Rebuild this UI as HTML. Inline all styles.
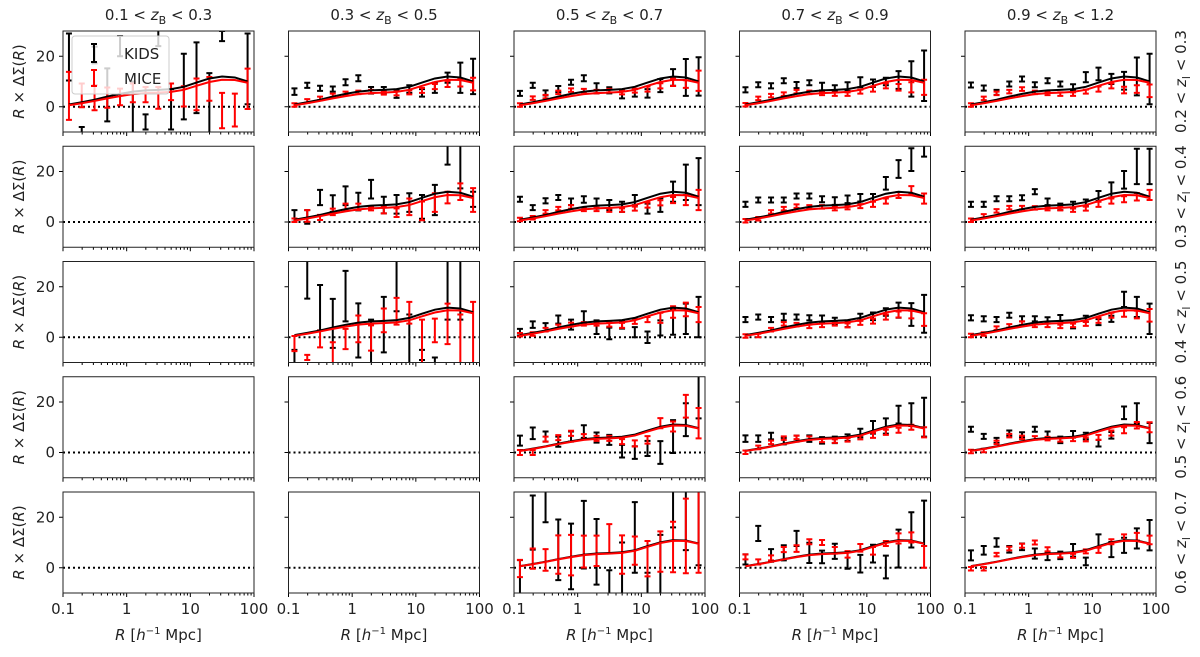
<!DOCTYPE html>
<html><head><meta charset="utf-8"><style>
html,body{margin:0;padding:0;background:#fff;}
svg{display:block;font-family:"DejaVu Sans","Liberation Sans",sans-serif;}
</style></head><body>
<svg id="chart" width="1200" height="657" viewBox="0 0 1200 657" xmlns="http://www.w3.org/2000/svg"></svg>
<script>
const radii = [0.124,0.197,0.313,0.496,0.787,1.25,1.98,3.14,4.98,7.9,12.5,19.9,31.5,50,79.3];
const colTitles = ["0.1","0.3","0.5","0.7","0.9","1.2"];
const rowTitles = ["0.2","0.3","0.4","0.5","0.6","0.7"];
const yTicks = [0,20];
const xTicks = [0.1,1,10,100];
const xTickLabels = ["0.1","1","10","100"];
const panelRows = [0,0,0,0,0,1,1,1,1,2,2,2,2,3,3,3,4,4,4];
const panelCols = [0,1,2,3,4,1,2,3,4,1,2,3,4,2,3,4,2,3,4];
const kidsVal = [
[19.7,-12,20.5,4.7,24,-3,-6,28,-1,8,11.5,1.3,28,38,15],
[6,8.5,7.3,7,9.7,11.3,6.5,6.5,5,7,5.5,7.5,11.5,11.5,12],
[5.3,8.5,5.5,7,9.7,11.3,7.3,6.5,4.8,5.5,5.3,8.4,11.6,11.6,12],
[6.7,8.7,8.3,10.3,8.6,9.5,8,7.3,8,9.7,9.3,10,10.6,11,12.3],
[8.6,7.4,5.7,9,11,8.7,10.3,9,7.7,11.7,13,11,10.3,12,11],
[2.4,2,9.7,7.3,10.4,8.1,13,6.7,7,7.7,6,8.7,27.7,22,9],
[9,5.7,8.4,9.7,8,8.9,7.3,6.7,6,8.7,5.3,6.7,12,15.7,16],
[7,8.7,8.7,8.7,10.3,10.3,9,8.3,9,9.6,9.6,15.3,21,24.7,28.4],
[7,7,9.2,9.2,9.6,12,8,6,6.7,7.6,10.3,12.7,16.7,22,22],
[-15,23,11.7,5.5,16.3,2.7,-3,5,20.3,-3,-7,-12,25,22,40],
[2,5,4,7,5,8,4,1.5,5,2,0,3.7,6,7.3,8],
[7,8,7,8,8,7.7,7.3,6.4,5.3,8,8.3,10,10.7,9,9.3],
[7.7,7.3,7,8.7,7.3,7.3,6.7,7.6,4.7,7.3,6,7.3,15,12,7.3],
[4.7,7.6,6.3,4.3,6.3,8.3,5.9,5,0.5,0,1.6,0,6.3,13,22],
[5.5,5.5,6.5,4.5,5.5,5.5,4.8,5,5.9,7.7,10,10.5,15,15,14],
[9.2,6.4,4.8,7.7,7,9.2,7,5,7.2,6.5,3.7,6.8,15.7,15.5,7.7],
[-5,17.9,25,7.1,4.5,13.1,6.3,-8,-6,12,-10,-4,25,22,20],
[3.3,13.6,4.9,5.9,11.6,5.9,4.3,6.5,2.9,1.6,5.6,0.3,7.6,15,17.6],
[4.9,6.9,10,7.3,8.3,5.6,4.5,4.9,6.9,2.5,10.7,7.2,8.9,11.6,12.9]
];
const kidsErr = [
[9.3,4,3.3,10.5,4,13,3,4,8,13,14,12,2,3,14],
[1.3,1,1,1,1.2,1.2,1.3,1.3,1.5,1.5,1.5,2,2,6,7],
[1,1,1,1.2,1,1.2,2,1.2,1.5,1.5,1.7,2.6,3.3,7.3,7.6],
[1,1,1,1,1.2,1,1.5,1.2,1.7,2,1.5,1.5,3.5,7,10],
[1,1,1,1,1,1,1,1,1.2,2,2.5,2,3.5,7.5,10],
[2.3,2.7,3,3.3,3.7,3.5,3.7,3.3,3.7,3.7,4.7,6,5,8.7,3],
[1,1,1,1,1.3,1.3,2,2,2,2,2,2.7,4,7,9.3],
[1,1,1,1,1,1,1.2,1.5,1.5,1.5,1.5,2.5,3.5,4.5,2.5],
[1,1,1,1,1,1,1.3,1.3,1.3,1.3,2,3,3.5,7,7],
[10,7.7,9,9.7,10,10.7,10,11,10,12,2,4,18,15,2],
[1.3,1.3,1.6,1.6,2,2.3,2.7,2.3,1.6,2,2.3,3,5,6,8],
[1,1,1,1.3,1,1,1.3,1.3,1.3,1.3,1.5,1.5,3,4.5,7.5],
[1,1,1,1,1,1,1.2,1.2,1.2,1.2,1.2,1.2,3,4,6],
[2,2.3,2,2,2,2.5,2,2,2.5,2.5,3,4.5,6.5,6.5,8.5],
[1.3,1.3,1.3,1.3,1.2,1.3,1.3,1.3,1.3,1.7,2.5,3,3.5,4.5,7.7],
[1,1,1,1,1,1,1.3,1.3,1.3,1.3,1.3,1.3,2.5,4,4],
[8,10.7,7,12,13,13.4,13,7,16,14,8,17,9,15,19],
[2,3,2.5,3,3,4,2.5,3,3.3,3.5,3.5,4.5,7.5,7,9],
[2,1.7,1.7,1.3,1.3,2,1.5,1.5,2.5,1.5,2.5,3,3,4,6]
];
const miceVal = [
[4.3,4.5,3.6,3.6,3.9,5.5,4.8,3.5,5.9,4.1,4.9,7.1,-1.5,-1.3,7.1],
[0.7,2.3,3.3,4.5,5.3,5.7,6,5.5,5.3,5.7,6.5,8,9,9.5,9],
[0.7,3.4,4,5.7,6.6,6.4,6,6.4,5.7,6.4,7,8.3,9.7,9,10.3],
[0.8,3.3,4.4,5,6,5.7,5.3,5,5,6,7,8.3,7.7,7.7,7.7],
[0.7,3.3,5.3,6,7,5.7,5.3,5,5,6,7,8.3,6.6,7,6.3],
[0.7,2.4,1.8,4,6,6,5.3,4.7,3.7,6,4.4,7.7,9.7,12,8.7],
[1,1.7,4,5.3,6,5,5,4.7,4.7,5.3,6.7,7.6,8.7,8.7,8.7],
[0.5,1.3,4,5.3,6.3,6,6,5.3,5.7,6.3,7,8.3,10.7,12.7,9.3],
[0.7,2.4,4.4,5.7,5.7,5.6,5.3,5.3,4.7,5.3,7,8.3,9,10,10.7],
[-2.5,-8,-0.7,-8,-0.7,3.3,-0.3,6.7,10.3,9.7,-2,2.7,5.3,-2,0],
[1,1.3,3,4.3,5,5.3,5.3,5,4.7,6.3,7,7.7,10,11,9],
[0.5,0.7,3,5.3,5,4.3,4.7,5.3,4.7,5.7,6.4,8,9,9,7],
[0.7,1.3,3.6,4.5,5.6,4.7,4.7,4.3,4.7,5.3,6.7,8.7,9.3,9,8.7],
[0,0,5.3,5.9,7.6,6.3,5.6,5.6,4.3,3.6,5,11.6,10.3,18.3,11.6],
[0.1,2,4,5.7,6,5.7,4.8,4.5,5,6,6.8,8,8.8,10,8],
[0.4,0.8,4,6.7,6,5.8,5.5,5,5.2,5.2,6,7.7,8.8,10.8,10],
[-0.3,3.6,3.1,5.2,5,6.4,6.7,11.5,5.2,6.8,3.6,6.4,8.2,12.6,15],
[4.3,2.3,3.9,7.2,7.6,10.3,10,6.9,5.3,7.9,6.7,9.6,11.6,12,4.3],
[-0.4,-0.4,5.2,7.6,8.7,10,7.3,4.9,4.7,6.5,6.9,10.3,12,12.3,11]
];
const miceErr = [
[9.5,4.7,5,4,3.3,3.7,3,4.3,3.3,4,6.3,4.7,7,6.5,8],
[0.7,0.7,0.7,0.7,0.7,0.7,0.7,0.7,0.8,0.8,1,1,1.2,1.5,2.5],
[0.7,0.7,0.7,0.7,0.7,0.7,0.7,0.7,0.8,0.8,1,1,1.5,1.5,4],
[0.7,0.7,0.7,0.7,0.7,0.7,0.7,0.7,0.7,0.8,1,1,1.3,2,3],
[0.7,0.7,0.7,0.7,0.7,0.7,0.7,0.7,0.7,0.8,1,1,1.3,1.5,2.5],
[0.7,2.3,1,1.3,1.3,1.3,0.7,1.3,1.7,3.3,3.7,3.7,2.3,3.3,4.7],
[0.7,0.7,0.7,0.7,0.7,0.7,0.7,0.7,0.7,0.8,1,1,1.2,2,4],
[0.7,0.7,0.7,0.7,0.7,0.7,0.7,0.7,0.7,0.8,1,1,1.2,1.5,2],
[0.7,0.7,0.7,0.7,0.7,0.7,0.7,0.7,0.7,0.8,1,1,1.2,1.5,2],
[3,1,3.3,6,4,5.3,5,4.7,5.3,4.3,9,4.7,8,11,14],
[0.7,0.7,0.7,0.7,0.8,0.7,0.7,0.8,1,1,1,2,2.3,2.7,3],
[0.7,0.7,0.7,0.7,0.7,0.7,0.7,0.7,0.8,0.8,1,1,1.2,1.5,2.5],
[0.7,0.7,0.7,0.7,0.7,0.7,0.7,0.7,0.7,0.8,1,1,1.2,1.5,2.5],
[1,1,1,1,1,1,1,1,1,1.2,1.5,2,2,4.5,6],
[0.7,0.7,0.7,0.7,0.7,0.7,0.7,0.7,0.7,0.8,1,1,1,1,2],
[0.7,0.7,0.7,0.7,0.7,0.7,0.7,0.7,0.7,0.8,1,1,1.2,1.3,2],
[3.4,4,4.3,7.6,8,6.3,6,5.8,7.6,5.6,7,8,10,14.8,17],
[1,1,1,1,1.3,1,1,1.3,1.3,1.5,1.5,1,2,2,4.3],
[0.7,0.7,0.7,0.7,0.8,0.8,0.8,0.8,0.8,0.8,1,1,1.2,1.5,1.7]
];
const modelRed = [0.6,1.4,2.3,3.3,4.2,5,5.4,5.6,5.9,6.7,8.3,9.8,10.7,10.6,9.5];
const modelBlackDelta = [0.3,0.4,0.5,0.7,0.9,1,1.1,1.1,1.1,1.2,1.3,1.4,1.3,1,0.5];
const rowDeltaScale = [1,1,0.8,0.3,0.2];

const NS="http://www.w3.org/2000/svg";
const svg=document.getElementById('chart');
function mk(tag,attrs,parent){const e=document.createElementNS(NS,tag);for(const k in attrs)e.setAttribute(k,attrs[k]);(parent||svg).appendChild(e);return e;}
const PL=63,PT=31,PW=191,PH=101,DX=225.5,DY=115.25,YMIN=-10,YMAX=30;
function xs(c,r){return PL+c*DX+(Math.log10(r)+1)/3*PW;}
function ys(rw,v){return PT+rw*DY+(YMAX-v)/(YMAX-YMIN)*PH;}

const defs=mk('defs',{});
for(let rw=0;rw<5;rw++){for(let c=0;c<5;c++){
  const left=PL+c*DX, top=PT+rw*DY;
  const cp=mk('clipPath',{id:'cp'+rw+'_'+c},defs);
  mk('rect',{x:left,y:top,width:PW,height:PH},cp);
  const g=mk('g',{});
  
  
  const zl=mk('line',{x1:left,x2:left+PW,y1:ys(rw,0),y2:ys(rw,0),stroke:'#000','stroke-width':2,'stroke-dasharray':'2,3'},g);
  
  
  // y ticks
  yTicks.forEach(t=>{mk('line',{x1:left-4,x2:left,y1:ys(rw,t),y2:ys(rw,t),stroke:'#000','stroke-width':1},g);
    if(c===0){const tx=mk('text',{x:left-8,y:ys(rw,t)+5,'text-anchor':'end','font-size':15,fill:'#222'},g);tx.textContent=t;
      
      }});
  // x ticks
  for(let d=-1;d<2;d++){for(let m=1;m<10;m++){const v=m*Math.pow(10,d);const x=xs(c,v);mk('line',{x1:x,x2:x,y1:top+PH,y2:top+PH+(m===1?4:2.5),stroke:'#000','stroke-width':1},g);}}
  mk('line',{x1:xs(c,100),x2:xs(c,100),y1:top+PH,y2:top+PH+4,stroke:'#000','stroke-width':1},g);
  if(rw===4){xTicks.forEach((t,i)=>{const tx=mk('text',{x:xs(c,t),y:top+PH+21,'text-anchor':'middle','font-size':15,fill:'#222'},g);tx.textContent=xTickLabels[i];
    
    });
    const xl=mk('text',{x:left+PW/2,y:top+PH+47,'text-anchor':'middle','font-size':15,fill:'#222'},g);
    xl.innerHTML='<tspan font-style="italic">R</tspan> [<tspan font-style="italic">h</tspan><tspan dy="-6" font-size="10">−1</tspan><tspan dy="6"> Mpc]</tspan>';
    
    }
  if(c===0){const yl=mk('text',{transform:'translate(24,'+(top+PH/2)+') rotate(-90)','text-anchor':'middle','font-size':15,fill:'#222'},g);
    yl.innerHTML='<tspan font-style="italic">R</tspan> × ΔΣ(<tspan font-style="italic">R</tspan>)';
    
    }
  if(rw===0){const tt=mk('text',{x:left+PW/2,y:20,'text-anchor':'middle','font-size':15,fill:'#222'},g);
    tt.innerHTML=colTitles[c]+' &lt; <tspan font-style="italic">z</tspan><tspan dy="4" font-size="11">B</tspan><tspan dy="-4"> &lt; '+colTitles[c+1]+'</tspan>';
    
    }
  if(c===4){const rt=mk('text',{transform:'translate(1186,'+(top+PH/2)+') rotate(-90)','text-anchor':'middle','font-size':15,fill:'#222'},g);
    rt.innerHTML=rowTitles[rw]+' &lt; <tspan font-style="italic">z</tspan><tspan dy="4" font-size="11">l</tspan><tspan dy="-4"> &lt; '+rowTitles[rw+1]+'</tspan>';
    
    }
}}
// data
panelRows.forEach((rw,p)=>{
  const c=panelCols[p];
  const g=mk('g',{'clip-path':'url(#cp'+rw+'_'+c+')'});
  
  
  function bars(vals,errs,col,name){
    vals.forEach((v,i)=>{const x=xs(c,radii[i]);const y1=ys(rw,v-errs[i]),y2=ys(rw,v+errs[i]);
      const b=mk('path',{d:`M${x},${y1}V${y2}M${x-3},${y1}H${x+3}M${x-3},${y2}H${x+3}`,stroke:col,'stroke-width':2,fill:'none'},g);
      
      });
  }
  bars(kidsVal[p],kidsErr[p],'#000','kids-errorbar');
  bars(miceVal[p],miceErr[p],'#f00','mice-errorbar');
  const s=rowDeltaScale[rw];
  const bl=mk('polyline',{points:radii.map((r,i)=>xs(c,r)+','+ys(rw,modelRed[i]+modelBlackDelta[i]*s)).join(' '),stroke:'#000','stroke-width':2,fill:'none'},g);
  
  
  const rl=mk('polyline',{points:radii.map((r,i)=>xs(c,r)+','+ys(rw,modelRed[i])).join(' '),stroke:'#f00','stroke-width':2,fill:'none'},g);
  
  
});
// frames
for(let rw=0;rw<5;rw++)for(let c=0;c<5;c++){const f=mk('rect',{x:PL+c*DX,y:PT+rw*DY,width:PW,height:PH,fill:'none',stroke:'#222','stroke-width':1});
  
  }
// legend
const lg=mk('g',{});


mk('rect',{x:72,y:36,width:97,height:58,rx:3,fill:'rgba(255,255,255,0.8)',stroke:'#ccc','stroke-width':1},lg);
mk('path',{d:'M94,44V62M91,44H97M91,62H97',stroke:'#000','stroke-width':2},lg);
mk('path',{d:'M94,70V86M91,70H97M91,86H97',stroke:'#f00','stroke-width':2},lg);
const t1=mk('text',{x:124,y:59,'font-size':15,fill:'#222'},lg);t1.textContent='KIDS';


const t2=mk('text',{x:124,y:84,'font-size':15,fill:'#222'},lg);t2.textContent='MICE';


</script>
</body></html>
